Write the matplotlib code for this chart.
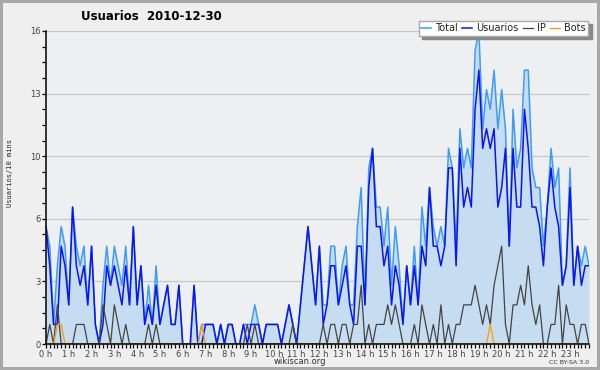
import numpy as np
import matplotlib
matplotlib.use("Agg")
import matplotlib.pyplot as plt
from matplotlib.ticker import FixedLocator, FuncFormatter, MultipleLocator


# --- data: users per 10 minutes, 2010-12-30 (144 slots) ---

total = [6, 5, 1, 4, 6, 5, 2, 7, 5, 4, 5, 2, 5, 1, 0, 3, 5, 3, 5, 4, 3, 5, 2, 6,
         2, 4, 1, 3, 1, 4, 1, 2, 3, 1, 1, 3, 0, 0, 0, 3, 0, 1, 1, 1, 1, 0, 1, 0,
         1, 1, 0, 0, 1, 1, 1, 2, 1, 0, 1, 1, 1, 1, 0, 1, 2, 1, 0, 2, 4, 6, 4, 2,
         5, 2, 2, 5, 5, 2, 4, 5, 2, 2, 6, 8, 2, 9, 10, 7, 7, 5, 7, 3, 6, 4, 1, 4,
         2, 5, 2, 7, 5, 8, 6, 5, 6, 5, 10, 9, 5, 11, 9, 10, 9, 15, 16, 11, 13, 12, 14, 11,
         13, 11, 5, 12, 9, 10, 14, 14, 9, 8, 8, 5, 7, 10, 8, 9, 3, 4, 9, 3, 5, 4, 5, 4]

usuarios = [6, 4, 1, 1, 5, 4, 2, 7, 4, 3, 4, 2, 5, 1, 0, 1, 4, 3, 4, 3, 2, 4, 2, 6,
            2, 4, 1, 2, 1, 3, 1, 2, 3, 1, 1, 3, 0, 0, 0, 3, 0, 0, 1, 1, 1, 0, 1, 0,
            1, 1, 0, 0, 1, 0, 1, 1, 1, 0, 1, 1, 1, 1, 0, 1, 2, 1, 0, 2, 4, 6, 4, 2,
            5, 1, 2, 4, 4, 2, 3, 4, 2, 1, 5, 5, 2, 8, 10, 6, 6, 4, 5, 2, 4, 3, 1, 4,
            2, 4, 2, 5, 4, 8, 5, 5, 4, 5, 9, 9, 4, 10, 7, 8, 7, 12, 14, 10, 11, 10, 11, 7,
            8, 10, 5, 10, 7, 7, 12, 10, 7, 7, 6, 4, 7, 9, 7, 6, 3, 4, 8, 3, 5, 3, 4, 4]

ip = [0, 1, 0, 2, 0, 0, 0, 0, 1, 1, 1, 0, 0, 0, 0, 2, 1, 0, 2, 1, 0, 1, 0, 0,
      0, 0, 0, 1, 0, 1, 0, 0, 0, 0, 0, 0, 0, 0, 0, 0, 0, 0, 0, 0, 0, 0, 0, 0,
      0, 0, 0, 0, 0, 1, 0, 1, 0, 0, 0, 0, 0, 0, 0, 0, 0, 1, 0, 0, 0, 0, 0, 0,
      0, 1, 0, 1, 1, 0, 1, 1, 0, 1, 1, 3, 0, 1, 0, 1, 1, 1, 2, 1, 2, 1, 0, 0,
      0, 1, 0, 2, 1, 0, 1, 0, 2, 0, 1, 0, 1, 1, 2, 2, 2, 3, 2, 1, 2, 1, 3, 4,
      5, 1, 0, 2, 2, 3, 2, 4, 2, 1, 2, 0, 0, 1, 1, 3, 0, 2, 1, 1, 0, 1, 1, 0]

bots = [0] * 144
bots[3] = 1
bots[4] = 1
bots[41] = 1
bots[117] = 1

hour_labels = [f"{h} h" for h in range(24)]
ytick_values = [0, 3.2, 6.4, 9.6, 12.8, 16]

slots = np.arange(len(total))

# --- colours ---
BG = "#efefef"
FILL = "#c6dcf0"
C_TOTAL = "#3d9cf5"
C_USU = "#0a14f5"
C_IP = "#444444"
C_BOTS = "#ff9a00"
TXT = "#444444"

fig = plt.figure(figsize=(6, 3.7), dpi=100, facecolor=BG,
                 edgecolor="#a8a8a8", linewidth=3)
ax = fig.add_axes([46 / 600, 26 / 370, 543 / 600, 313 / 370])
ax.set_facecolor("#eeeff1")

ax.fill_between(slots, total, 0, color=FILL, linewidth=0)
ax.plot(slots, total, color=C_TOTAL, lw=1.1, label="Total")
ax.plot(slots, usuarios, color=C_USU, lw=1.1, label="Usuarios")
ax.plot(slots, ip, color=C_IP, lw=0.9, label="IP")
ax.plot(slots, bots, color=C_BOTS, lw=0.9, label="Bots")

ax.set_xlim(0, 143)
ax.set_ylim(0, 16)

# y axis
ax.yaxis.set_major_locator(FixedLocator(ytick_values))
ax.yaxis.set_major_formatter(FuncFormatter(lambda v, p: f"{int(round(v))}"))
ax.yaxis.set_minor_locator(MultipleLocator(0.8))
ax.grid(axis="y", color="#c8c8c8", lw=0.9)
ax.set_axisbelow(True)

# x axis: hour labels, ticks every 10 minutes
ax.set_xticks(np.arange(0, 144, 6))
ax.set_xticklabels(hour_labels)
ax.xaxis.set_minor_locator(MultipleLocator(1))

ax.tick_params(axis="both", which="both", direction="out", length=3, width=0.9,
               labelsize=6, labelcolor=TXT, color="black", pad=1)

for side in ["top", "right"]:
    ax.spines[side].set_visible(False)
ax.spines["left"].set_linewidth(1.1)
ax.spines["bottom"].set_linewidth(1.1)

fig.text(10 / 600, 1 - 173 / 370, "Usuarios/10 mins", rotation=90, ha="center",
         va="center", fontsize=5, family="DejaVu Sans Mono", color="#222222")

fig.text(151 / 600, 1 - 16 / 370, "Usuarios  2010-12-30", ha="center", va="center",
         fontsize=8.5, fontweight="bold")

leg = fig.legend(loc="upper right", bbox_to_anchor=(593 / 600, 1 - 16 / 370), ncol=4,
                 fontsize=7, handlelength=1.0, handletextpad=0.4, columnspacing=0.5,
                 borderpad=0.25, fancybox=False,
                 shadow={"color": "#888888", "alpha": 1, "ox": 2.5, "oy": -2.5},
                 framealpha=1, edgecolor="#aaaaaa")
for t in leg.get_texts():
    t.set_color("#222222")

fig.text(0.5, 1 - 362 / 370, "wikiscan.org", ha="center", va="center", fontsize=6,
         color="#333333")
fig.text(569 / 600, 1 - 363 / 370, "CC BY-SA 3.0", ha="center", va="center",
         fontsize=4.5, color="#333333")

fig.savefig("out.png", dpi=100, facecolor=fig.get_facecolor(),
            edgecolor=fig.get_edgecolor())
